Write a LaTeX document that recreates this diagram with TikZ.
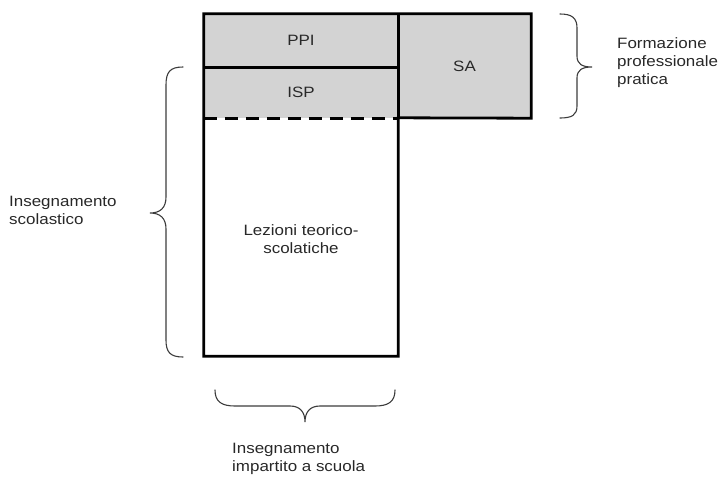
\documentclass[tikz,border=0pt]{standalone}
\usepackage{fontspec}
\setmainfont{Liberation Sans}[FakeStretch=1.13]
\definecolor{cellgray}{RGB}{211,211,211}
\definecolor{txt}{RGB}{40,40,40}
\definecolor{bracecol}{RGB}{60,60,60}
\begin{document}
\begin{tikzpicture}[x=1pt,y=-1pt,
  font=\fontsize{15}{18}\selectfont, text=txt,
  cell/.style={inner sep=0pt, minimum width=#1},
  boxline/.style={line width=2.8pt, line join=miter, draw=black},
  bracepath/.style={line width=1.1pt, draw=bracecol, line cap=round},
  lbl/.style={align=left, anchor=west, inner sep=0pt}]
\useasboundingbox (0,0) rectangle (724,480);
% cells
\node[cell=194pt, minimum height=53pt, fill=cellgray] (ppi) at (301,40.5) {PPI};
\node[cell=194pt, minimum height=51pt, fill=cellgray] (isp) at (301,92.5) {ISP};
\node[cell=194pt, minimum height=238pt, fill=white] (lez) at (301,237) {};
\node[cell=133pt, minimum height=104pt, fill=cellgray] (sa) at (464.5,66) {SA};
\node[align=center, inner sep=0pt] (leztext) at (301,239) {Lezioni teorico-\\scolatiche};
% borders
\draw[boxline] (ppi.north west) -- (sa.north east) -- (sa.south east) -- (lez.north east) -- (lez.south east) -- (lez.south west) -- cycle;
\draw[boxline] (ppi.north east) -- (isp.south east);
\draw[boxline] (ppi.south west) -- (ppi.south east);
\draw[line width=2.8pt, dash pattern=on 13pt off 8pt] (isp.south west) -- (isp.south east);
% right brace
\coordinate (rb1) at (560,14);
\coordinate (rb2) at (560,118);
\draw[bracepath] (rb1) .. controls (572,14) and (577,18) .. (577,28) -- (577,56) .. controls (577,64) and (582,67) .. (592,67) .. controls (582,67) and (577,70) .. (577,78) -- (577,106) .. controls (577,115) and (572,118) .. (rb2);
\node[lbl] (fpp) at (617,63) {Formazione\\professionale\\pratica};
% left brace
\coordinate (lb1) at (183,67);
\coordinate (lb2) at (183,357);
\draw[bracepath] (lb1) .. controls (170,67) and (166,72) .. (166,85) -- (166,197) .. controls (166,208) and (160,213) .. (150,213) .. controls (160,213) and (166,218) .. (166,229) -- (166,340) .. controls (166,352) and (170,357) .. (lb2);
\node[lbl] (isc) at (9,210) {Insegnamento\\scolastico};
% bottom brace
\coordinate (bb1) at (215,390);
\coordinate (bb2) at (395,390);
\draw[bracepath] (bb1) .. controls (215,402) and (222,406) .. (235,406) -- (290,406) .. controls (300,406) and (305,412) .. (305,422) .. controls (305,412) and (310,406) .. (320,406) -- (375,406) .. controls (388,406) and (395,402) .. (bb2);
\node[lbl] (ias) at (232,459) {Insegnamento\\impartito a scuola};
\end{tikzpicture}
\end{document}
